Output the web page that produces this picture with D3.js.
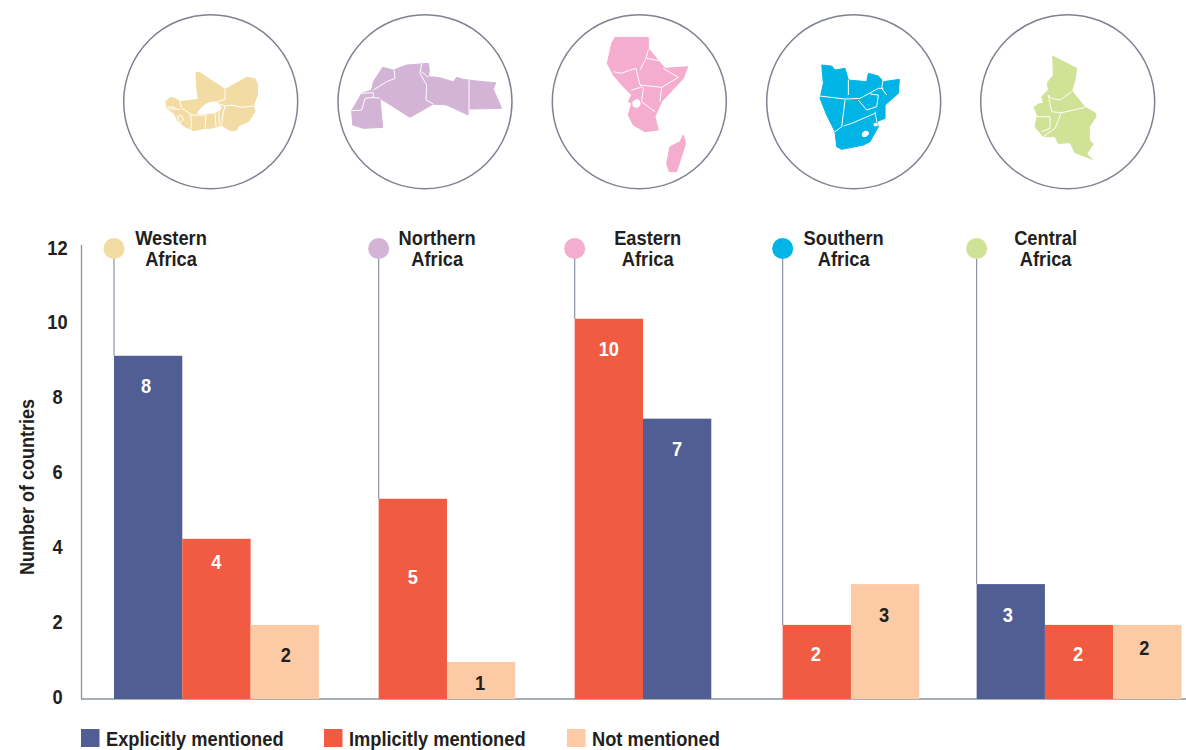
<!DOCTYPE html>
<html><head><meta charset="utf-8">
<script src="https://cdnjs.cloudflare.com/ajax/libs/d3/7.8.5/d3.min.js"></script>
<style>
html,body{margin:0;padding:0;background:#fff}
svg{display:block}
text{font-family:"Liberation Sans",Arial,sans-serif;font-weight:700;fill:#231f20}
</style></head><body>
<svg id="c" width="1186" height="750"></svg>
<script>
// ---------- data ----------
const regions = ["Western Africa","Northern Africa","Eastern Africa","Southern Africa","Central Africa"];
const seriesNames = ["Explicitly mentioned","Implicitly mentioned","Not mentioned"];
// printed values
const explicitLabels = [8,null,7,null,3];
const implicitLabels = [4,5,10,2,2];
const notLabels      = [2,1,null,3,2];
// bar heights as read against the axis (the source draws them slightly off the printed value)
const explicitBars = [9.17,null,7.49,null,3.07];
const implicitBars = [4.28,5.35,10.16,1.98,1.98];
const notBars      = [1.98,0.99,null,3.07,1.98];
const barOrder = [[0,1,2],[1,2],[1,0],[1,2],[0,1,2]];
const yTicks = [0,2,4,6,8,10,12];
const yTitle = "Number of countries";

// ---------- styles / layout ----------
const seriesColors = ["#505e94","#f15b41","#fccba6"];
const labelColors = ["#fff","#fff","#231f20"];
const regionColors = ["#f3dca3","#d3b4d6","#f5adcf","#00b4e6","#d0e296"];
const slotStart = [0,3.875,6.745,9.79,12.63];   // group start, in bar widths
const titleShift = [57,58.5,73,61,69];
const circleX = [210.7,425,639.3,853.7,1067.7];
const labelDrop = {"0-1":23,"1-0":78,"1-1":21,"4-2":23,"3-0":29,"4-1":29};
const labelNudge = {"0-0":-2,"0-2":1,"1-1":-1,"3-0":-1,"3-1":-1,"4-0":-3,"4-1":-1,"4-2":-3};
const grey = "#8b93a3";
const narrow = 0.87;

const svg = d3.select("#c");
const y = d3.scaleLinear().domain([0,12.13]).range([699,245]);
const x = d3.scaleLinear().domain([0,1]).range([114,182.3]);
const valueSets = [explicitBars,implicitBars,notBars];
const labelSets = [explicitLabels,implicitLabels,notLabels];
const squeeze = (px,py)=>`translate(${px},${py}) scale(${narrow},1)`;

// ---------- region map outlines, traced in the units of a 3x crop, relative to the circle centre ----------
const mapShapes = [
 {c:[332,305],
  fill:[[[288,218],[300,218],[375,268],[440,232],[465,236],[473,255],[472,285],[460,318],[465,335],[445,365],[415,378],[410,390],[390,392],[365,375],[330,385],[315,385],[280,392],[255,380],[235,365],[222,340],[200,325],[198,305],[210,292],[225,295],[240,305],[295,298],[290,260]]],
  holes:[[[293,342],[312,315],[345,305],[365,325],[342,340],[320,342]]],
  lines:[[[375,268],[375,298],[345,307]],[[345,307],[375,318],[395,315],[425,322],[460,318]],[[375,318],[368,345],[365,375]],[[240,305],[245,325],[270,340],[275,365],[272,390]],[[200,320],[225,322]],[[202,326],[240,328]],[[318,340],[315,385]],[[345,340],[348,378]],[[356,338],[358,376]],[[270,345],[318,345]],[[232,350],[245,345],[250,360],[240,368],[232,350]]]},
 {c:[975,305],
  fill:[[[848,202],[880,210],[920,195],[985,190],[988,210],[985,230],[1015,232],[1060,245],[1070,232],[1090,238],[1105,240],[1150,245],[1187,248],[1180,268],[1205,325],[1108,327],[1105,345],[1040,315],[1000,312],[930,352],[840,295],[848,382],[790,385],[758,375],[755,332],[785,280],[815,270],[820,245]]],
  holes:[],
  lines:[[[755,332],[785,330],[795,295],[820,292],[820,278],[785,280]],[[820,270],[860,245],[885,235],[882,208]],[[965,190],[960,220],[980,255],[978,300],[1000,312]],[[985,232],[965,215]],[[1107,240],[1107,345]],[[820,292],[840,295]]]},
 {c:[328,305],
  fill:[[[255,112],[355,112],[355,145],[380,175],[405,205],[473,200],[460,235],[395,305],[375,350],[385,390],[345,395],[310,375],[295,345],[305,310],[295,305],[305,285],[280,260],[250,225],[232,190],[245,130]],
        [[460,405],[467,430],[440,515],[418,515],[410,490],[420,440],[450,425]]],
  holes:[[[308,305],[325,298],[332,312],[322,323],[310,320]]],
  lines:[[[250,215],[275,220],[300,210],[318,205],[325,235],[330,255],[395,262],[445,232],[400,205]],[[350,175],[390,182]],[[355,148],[348,175],[330,210]],[[330,255],[340,265],[335,305],[375,335]],[[395,262],[390,305]],[[305,270],[332,262]]]},
 {c:[971,305],
  fill:[[[875,195],[905,198],[915,210],[945,205],[955,240],[1010,245],[1015,220],[1045,228],[1060,245],[1108,238],[1105,280],[1065,315],[1065,355],[1040,365],[1045,380],[1020,425],[1000,435],[935,448],[920,440],[915,395],[890,345],[870,295],[880,250]]],
  holes:[[[995,402],[1008,392],[1017,398],[1008,410],[998,410]],[[1030,372],[1040,368],[1044,376],[1034,379]]],
  lines:[[[870,288],[945,297],[990,295],[1045,265],[1060,265]],[[955,240],[955,285]],[[945,300],[935,380],[915,395]],[[985,300],[1010,330],[1040,320],[1045,285],[1020,282]],[[1035,340],[965,370],[940,378]],[[1035,335],[1040,365]],[[1060,235],[1055,265],[1070,285]]]},
 {c:[323,305],
  fill:[[[278,168],[350,205],[345,240],[335,272],[375,322],[405,338],[408,350],[388,380],[388,420],[400,432],[380,462],[397,478],[345,458],[330,428],[295,430],[285,410],[250,410],[225,380],[232,345],[222,322],[235,312],[250,310],[245,290],[265,270],[262,248],[280,225]]],
  holes:[],
  lines:[[[265,285],[275,295],[300,300],[335,275]],[[265,285],[275,335],[305,338],[375,322]],[[305,335],[285,385],[250,410]],[[228,350],[270,350],[270,385],[245,395]],[[392,380],[405,382]],[[392,395],[405,395]]]}
];

// ---------- circles + maps ----------
const mapScale = d3.scaleLinear().domain([0,3]).range([0,1]);
mapShapes.forEach((m,i)=>{
  const g = svg.append("g").attr("transform",`translate(${circleX[i]},101.7)`);
  g.append("circle").attr("r",87).attr("fill","#fff").attr("stroke","#7d8290").attr("stroke-width",1.5);
  const line = d3.line().x(d=>mapScale(d[0]-m.c[0])).y(d=>mapScale(d[1]-m.c[1]));
  const close = d3.line().x(d=>mapScale(d[0]-m.c[0])).y(d=>mapScale(d[1]-m.c[1])).curve(d3.curveCatmullRomClosed.alpha(1));
  m.fill.forEach(p=>g.append("path").attr("d",line(p)+"Z").attr("fill",regionColors[i]).attr("stroke",regionColors[i]).attr("stroke-width",1).attr("stroke-linejoin","round"));
  m.holes.forEach(p=>g.append("path").attr("d",close(p)).attr("fill","#fff"));
  m.lines.forEach(p=>g.append("path").attr("d",line(p)).attr("fill","none").attr("stroke","#fff").attr("stroke-width",1).attr("stroke-linejoin","round"));
});

// ---------- axis ----------
const axis = svg.append("g").attr("transform","translate(81.5,0)")
  .call(d3.axisLeft(y).tickValues(yTicks).tickSize(0).tickPadding(0).tickFormat(d3.format("d")));
axis.select(".domain").attr("stroke",grey).attr("stroke-width",1.3).attr("d",`M0,${y.range()[1]}V${y(0)}`);
axis.selectAll("text").attr("x",0).attr("dy","0.2em").attr("text-anchor","middle")
  .attr("transform",`translate(-24,0) scale(${narrow},1)`).style("font-size","21px").attr("fill","#231f20");
svg.append("line").attr("x1",81).attr("x2",1186).attr("y1",y(0)).attr("y2",y(0)).attr("stroke",grey).attr("stroke-width",1.3);
svg.append("text").attr("transform",`translate(34,487) rotate(-90) scale(${narrow+0.03},1)`).attr("text-anchor","middle").style("font-size","20px").text(yTitle);

// ---------- groups ----------
regions.forEach((name,i)=>{
  const gx = x(slotStart[i]);
  const order = barOrder[i];
  const firstTop = y(valueSets[order[0]][i]);
  svg.append("line").attr("x1",gx).attr("x2",gx).attr("y1",248).attr("y2",firstTop).attr("stroke",grey).attr("stroke-width",1.2);
  svg.append("circle").attr("cx",gx).attr("cy",248.5).attr("r",10.5).attr("fill",regionColors[i]);
  const title = svg.append("text").attr("transform",squeeze(gx+titleShift[i],245))
     .attr("text-anchor","middle").style("font-size","21px");
  name.split(" ").forEach((w,k)=>title.append("tspan").attr("x",0).attr("y",k*21).text(w));
  order.forEach((s,k)=>{
    const v = valueSets[s][i];
    const x0 = x(slotStart[i]+k), x1 = x(slotStart[i]+k+1);
    svg.append("rect").attr("x",x0).attr("y",y(v)).attr("width",x1-x0).attr("height",y(0)-y(v)).attr("fill",seriesColors[s]);
    const key = i+"-"+k;
    const drop = labelDrop[key] ?? 30;
    const nudge = labelNudge[key] ?? 0;
    svg.append("text").attr("transform",squeeze((x0+x1)/2+nudge,y(v)+drop+7.5)).attr("text-anchor","middle")
      .style("font-size","21px").style("fill",labelColors[s]).text(labelSets[s][i]);
  });
});

// ---------- legend ----------
const legendX = d3.scalePoint().domain(seriesNames).range([81,567]);
seriesNames.forEach((n,i)=>{
  svg.append("rect").attr("x",legendX(n)).attr("y",729).attr("width",18.5).attr("height",18).attr("fill",seriesColors[i]);
  svg.append("text").attr("transform",squeeze(legendX(n)+25,745.5)).style("font-size","21px").text(n);
});
</script>
</body></html>
